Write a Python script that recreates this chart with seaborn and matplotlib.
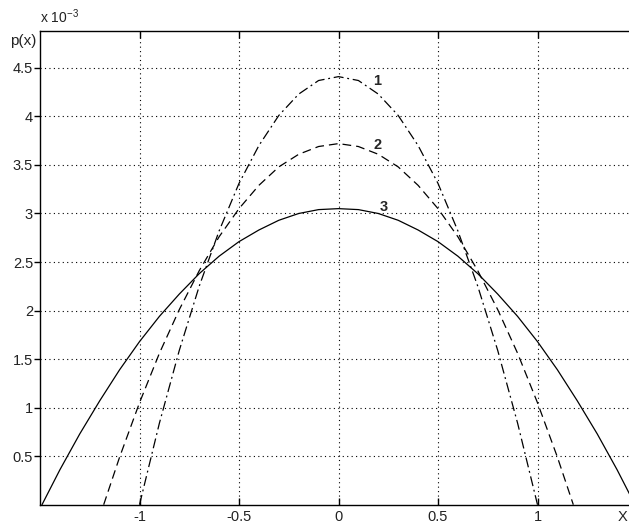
import numpy as np
import pandas as pd
import seaborn as sns
import matplotlib.pyplot as plt

# values (y in units of 1e-3)
x1 = [-1.0, -0.9, -0.8, -0.7, -0.6, -0.5, -0.4, -0.3, -0.2, -0.1, 0.0,
      0.1, 0.2, 0.3, 0.4, 0.5, 0.6, 0.7, 0.8, 0.9, 1.0]
p1 = [0.0, 0.84, 1.59, 2.25, 2.82, 3.31, 3.70, 4.01, 4.23, 4.37, 4.41,
      4.37, 4.23, 4.01, 3.70, 3.31, 2.82, 2.25, 1.59, 0.84, 0.0]

x2 = [-1.18, -1.1, -1.0, -0.9, -0.8, -0.7, -0.6, -0.5, -0.4, -0.3, -0.2, -0.1, 0.0,
      0.1, 0.2, 0.3, 0.4, 0.5, 0.6, 0.7, 0.8, 0.9, 1.0, 1.1, 1.18]
p2 = [0.0, 0.49, 1.05, 1.56, 2.01, 2.41, 2.76, 3.05, 3.29, 3.48, 3.61, 3.69, 3.72,
      3.69, 3.61, 3.48, 3.29, 3.05, 2.76, 2.41, 2.01, 1.56, 1.05, 0.49, 0.0]

x3 = [-1.49, -1.4, -1.3, -1.2, -1.1, -1.0, -0.9, -0.8, -0.7, -0.6, -0.5, -0.4, -0.3,
      -0.2, -0.1, 0.0, 0.1, 0.2, 0.3, 0.4, 0.5, 0.6, 0.7, 0.8, 0.9, 1.0, 1.1, 1.2,
      1.3, 1.4, 1.49]
p3 = [0.0, 0.36, 0.73, 1.07, 1.39, 1.68, 1.94, 2.17, 2.38, 2.56, 2.71, 2.83, 2.93,
      3.00, 3.04, 3.05, 3.04, 3.00, 2.93, 2.83, 2.71, 2.56, 2.38, 2.17, 1.94, 1.68,
      1.39, 1.07, 0.73, 0.36, 0.0]

xticks = [-1, -0.5, 0, 0.5, 1]
xticklabels = ['-1', '-0.5', '0', '0.5', '1']
yticks = [0.5, 1, 1.5, 2, 2.5, 3, 3.5, 4, 4.5]
yticklabels = ['0.5', '1', '1.5', '2', '2.5', '3', '3.5', '4', '4.5']
curve_labels = ['1', '2', '3']
label_pos = [(0.196, 4.36), (0.196, 3.71), (0.225, 3.07)]

sns.set_style("ticks")
plt.rcParams['font.family'] = ['Liberation Sans', 'DejaVu Sans']
plt.rcParams['mathtext.default'] = 'regular'

fig = plt.figure(figsize=(6.29, 5.25), dpi=100)
ax = fig.add_axes([40 / 629, 20.3 / 525, 597 / 629, 473.7 / 525])

styles = [(0, (8, 3, 1.5, 3)), (0, (7, 4)), '-']
for xs, ys, ls in zip([x1, x2, x3], [p1, p2, p3], styles):
    df = pd.DataFrame({'x': xs, 'p': ys})
    sns.lineplot(data=df, x='x', y='p', ax=ax, color='black', linewidth=0.9,
                 linestyle=ls, sort=True)

for txt, (tx, ty) in zip(curve_labels, label_pos):
    ax.text(tx, ty, txt, fontsize=10.5, fontweight='bold', ha='center', va='center')

ax.set_xlim(-1.5, 1.5)
ax.set_ylim(0, 4.88)
ax.set_xticks(xticks)
ax.set_xticklabels(xticklabels)
ax.set_yticks(yticks)
ax.set_yticklabels(yticklabels)
ax.set_xlabel('')
ax.set_ylabel('')
ax.tick_params(axis='x', direction='in', length=5, width=1, labelsize=10.5,
               color='black', top=True, labelcolor='#222222', pad=4)
ax.tick_params(axis='y', direction='out', length=4, width=1, labelsize=10.5,
               color='black', labelcolor='#222222', pad=1)
ax.grid(True, color='black', linestyle=(0, (1, 3)), linewidth=0.8)
for s in ax.spines.values():
    s.set_color('black')
    s.set_linewidth(1.0)

ax.text(1.427, -0.027, 'X', transform=ax.get_xaxis_transform(), fontsize=10.5,
        ha='center', va='center', color='#222222')
fig.text(36 / 629, 1 - 41 / 525, 'p(x)', fontsize=11, ha='right', va='center',
         color='#222222')
fig.text(40 / 629, 1 - 17 / 525, r'x 10$^{-3}$', fontsize=10, ha='left',
         va='center', color='#222222')

fig.savefig('out.png', dpi=100, facecolor='white')
